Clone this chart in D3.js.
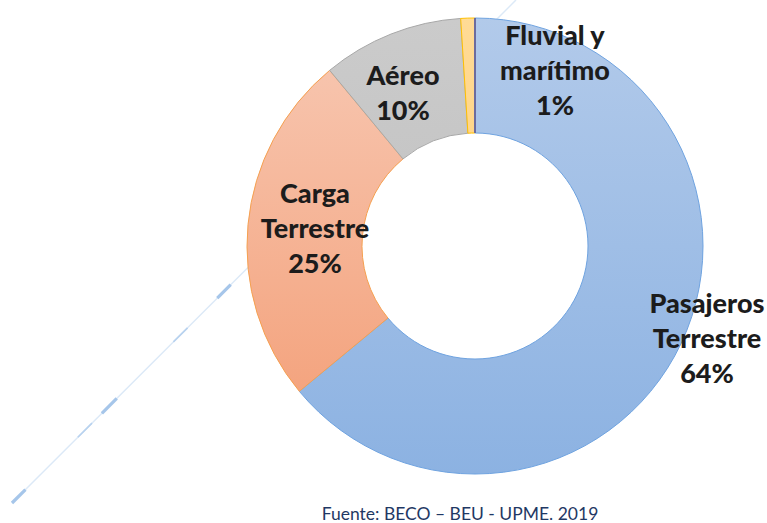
<!DOCTYPE html>
<html><head><meta charset="utf-8">
<script src="https://cdn.jsdelivr.net/npm/d3@7"></script>
<style>body{margin:0;background:#fff}svg{display:block}</style>
</head><body>
<svg id="c" width="767" height="523"></svg>
<script>
const categories = ["Pasajeros Terrestre", "Carga Terrestre", "Aéreo", "Fluvial y marítimo"];
const values = [64, 25, 10, 1];
const labelLines = [["Pasajeros","Terrestre","64%"],["Carga","Terrestre","25%"],["Aéreo","10%"],["Fluvial y","marítimo","1%"]];
const source = "Fuente: BECO – BEU - UPME. 2019";

const W=767,H=523, cx=475, cy=246, R=228, r0=113;
const svg=d3.select("#c");
const defs=svg.append("defs");
const grads=[["gb","#b2caea","#8cb2e2"],["go","#f7c4ad","#f4a47f"],["gg","#cbcbcb","#c6c6c6"],["gy","#ffdb96","#ffd68a"]];
grads.forEach(([id,a,b])=>{const g=defs.append("linearGradient").attr("id",id).attr("x1",0).attr("y1",0).attr("x2",0).attr("y2",1);
 g.append("stop").attr("offset","0%").attr("stop-color",a);g.append("stop").attr("offset","100%").attr("stop-color",b);});
const strokes=["#6fa3e0","#f5a050","#a8a8a8","#ffc000"];

// decorative diagonal line (behind donut)
const deco=svg.append("g");
const x1=12,y1=503,x2=516,y2=0;
deco.append("line").attr("x1",x1).attr("y1",y1).attr("x2",x2).attr("y2",y2).attr("stroke","#dce9f7").attr("stroke-width",1.5);
deco.append("line").attr("x1",x1).attr("y1",y1).attr("x2",x2).attr("y2",y2).attr("stroke","#a6c6ea").attr("stroke-width",3.2).attr("stroke-dasharray","19 108 21 142 19 2000");
deco.append("line").attr("x1",x1).attr("y1",y1).attr("x2",x2).attr("y2",y2).attr("stroke","#b8d2ef").attr("stroke-width",1.6).attr("stroke-dasharray","0 93 20 115 20 2000");

const pie=d3.pie().sort(null).value(d=>d)(values);
const arc=d3.arc().innerRadius(r0).outerRadius(R);
const g=svg.append("g").attr("transform",`translate(${cx},${cy})`);
g.append("circle").attr("r",R).attr("fill","#fff");
g.selectAll("path").data(pie).join("path").attr("d",arc)
 .attr("fill",(d,i)=>`url(#${grads[i][0]})`).attr("stroke",(d,i)=>strokes[i]).attr("stroke-width",1);
// thin dark separator at start angle
const a0=pie[0].startAngle;
g.append("line").attr("x1",r0*Math.sin(a0)).attr("y1",-r0*Math.cos(a0)).attr("x2",R*Math.sin(a0)).attr("y2",-R*Math.cos(a0))
 .attr("stroke","#6c6c9e").attr("stroke-width",2);

const labelPos=[[707,313],[315,203],[403,85],[555,45]];
const fs=27, lh=35;
labelLines.forEach((lines,i)=>{
  const t=svg.append("text").attr("font-family","Lato, 'Open Sans', sans-serif").attr("font-weight","900")
    .attr("font-size",fs).attr("fill","#1c1c1c").attr("text-anchor","middle");
  lines.forEach((s,j)=>t.append("tspan").attr("x",labelPos[i][0]).attr("y",labelPos[i][1]+j*lh).text(s));
});
svg.append("text").attr("x",460).attr("y",520).attr("text-anchor","middle").attr("font-family","Lato, sans-serif")
 .attr("font-size",17.5).attr("fill","#1f3864").text(source);
</script>
</body></html>
